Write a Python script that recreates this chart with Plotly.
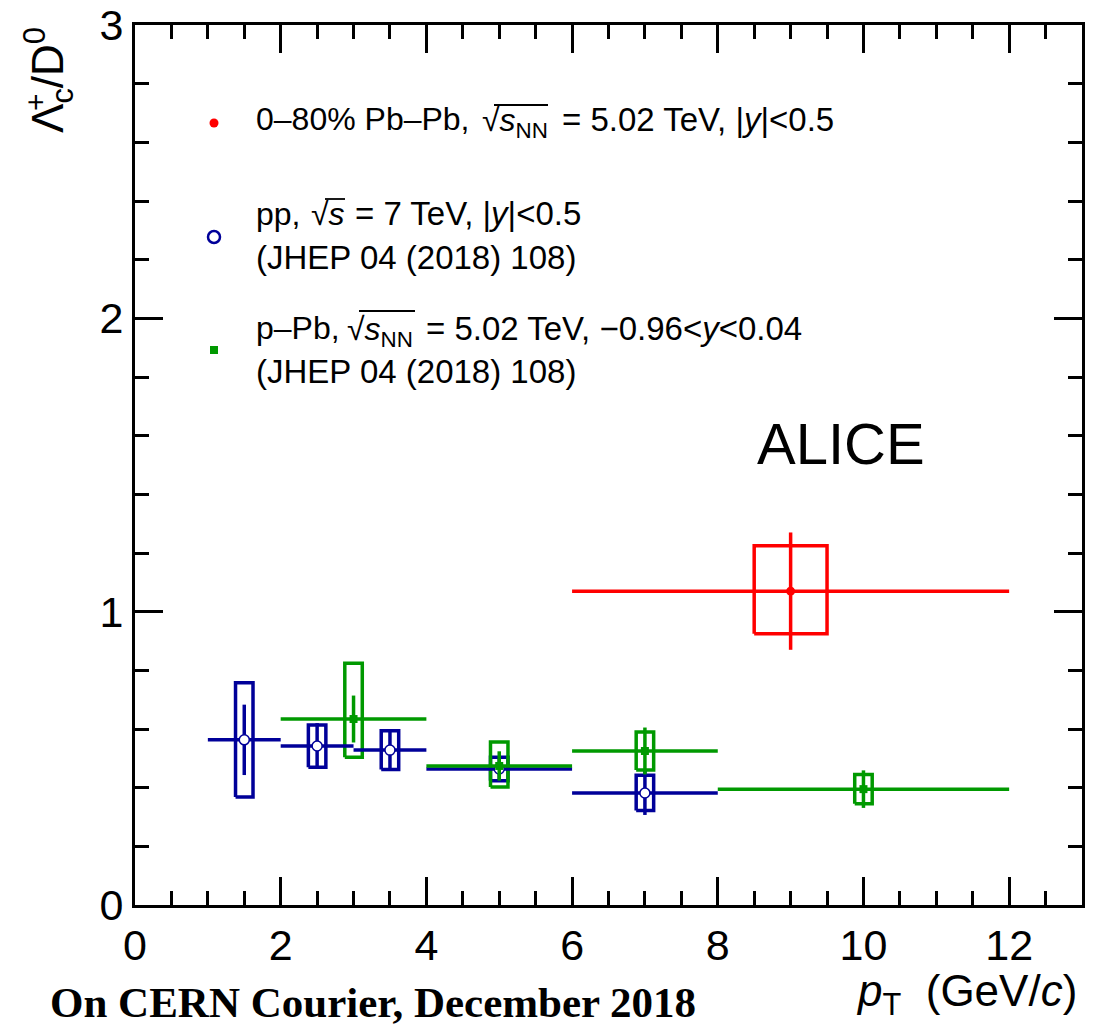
import plotly.graph_objects as go

# ---- data: Lambda_c+/D0 ratio vs pT ----
# Pb-Pb 0-80%, 5.02 TeV
pbpb_x = [9.0]
pbpb_xlo = [6.0]
pbpb_xhi = [12.0]
pbpb_y = [1.07]
pbpb_stat = [0.20]
pbpb_syst_lo = [0.145]
pbpb_syst_hi = [0.155]

# pp, 7 TeV
pp_x = [1.5, 2.5, 3.5, 5.0, 7.0]
pp_xlo = [1.0, 2.0, 3.0, 4.0, 6.0]
pp_xhi = [2.0, 3.0, 4.0, 6.0, 8.0]
pp_y = [0.563, 0.542, 0.528, 0.464, 0.382]
pp_stat = [0.12, 0.078, 0.066, 0.04, 0.075]
pp_syst_lo = [0.195, 0.072, 0.066, 0.04, 0.06]
pp_syst_hi = [0.195, 0.072, 0.066, 0.04, 0.06]

# p-Pb, 5.02 TeV
ppb_x = [3.0, 5.0, 7.0, 10.0]
ppb_xlo = [2.0, 4.0, 6.0, 8.0]
ppb_xhi = [4.0, 6.0, 8.0, 12.0]
ppb_y = [0.634, 0.474, 0.525, 0.395]
ppb_stat = [0.08, 0.05, 0.08, 0.064]
ppb_syst_lo = [0.13, 0.072, 0.065, 0.05]
ppb_syst_hi = [0.19, 0.082, 0.065, 0.05]

x_ticks = [0, 2, 4, 6, 8, 10, 12]
y_ticks = [0, 1, 2, 3]

RED = "#ff0000"
BLUE = "#000099"
GREEN = "#009900"

BOX_HALF = {RED: 0.5, BLUE: 0.12, GREEN: 0.12}   # half-width of systematic boxes
LW = 3.5

W, H = 1093, 1025
L, R, T, B = 135, 11, 25, 120
PW, PH = W - L - R, H - T - B


def px(xpix):
    return (xpix - L) / PW


def py(ypix):
    return (H - B - ypix) / PH


def boxes(x, y, lo, hi, half):
    xs, ys = [], []
    for xi, yi, l, h in zip(x, y, lo, hi):
        xs += [xi - half, xi + half, xi + half, xi - half, xi - half, None]
        ys += [yi - l, yi - l, yi + h, yi + h, yi - l, None]
    return xs, ys


fig = go.Figure()

series = [
    (pp_x, pp_xlo, pp_xhi, pp_y, pp_stat, pp_syst_lo, pp_syst_hi, BLUE,
     dict(symbol="circle", size=10, color="white", line=dict(color=BLUE, width=1.5))),
    (ppb_x, ppb_xlo, ppb_xhi, ppb_y, ppb_stat, ppb_syst_lo, ppb_syst_hi, GREEN,
     dict(symbol="square", size=8, color=GREEN)),
    (pbpb_x, pbpb_xlo, pbpb_xhi, pbpb_y, pbpb_stat, pbpb_syst_lo, pbpb_syst_hi, RED,
     dict(symbol="circle", size=9, color=RED)),
]

# systematic uncertainty boxes
for xs_, xlo, xhi, ys_, stat, slo, shi, col, mk in series:
    bx, by = boxes(xs_, ys_, slo, shi, BOX_HALF[col])
    fig.add_trace(go.Scatter(x=bx, y=by, mode="lines", line=dict(color=col, width=LW),
                             hoverinfo="skip", showlegend=False))

# points with bin widths and statistical errors
for xs_, xlo, xhi, ys_, stat, slo, shi, col, mk in series:
    fig.add_trace(go.Scatter(
        x=xs_, y=ys_, mode="markers", marker=mk, showlegend=False,
        error_x=dict(type="data", symmetric=False,
                     array=[b - xv for xv, b in zip(xs_, xhi)],
                     arrayminus=[xv - a for xv, a in zip(xs_, xlo)],
                     color=col, thickness=LW, width=0),
        error_y=dict(type="data", array=stat, color=col, thickness=LW, width=0),
    ))

# legend keys on an overlay axis spanning the plot area
legend_keys = [
    (px(214), py(123), dict(symbol="circle", size=9, color=RED)),
    (px(214), py(237), dict(symbol="circle-open", size=12, color=BLUE, line=dict(width=2.5))),
    (px(214), py(350), dict(symbol="square", size=8, color=GREEN)),
]
for kx, ky, mk in legend_keys:
    fig.add_trace(go.Scatter(x=[kx], y=[ky], mode="markers", marker=mk,
                             xaxis="x2", yaxis="y2", showlegend=False, hoverinfo="skip"))

FONT = "Liberation Sans, Arial, Helvetica, sans-serif"

axis_common = dict(
    showline=True, linecolor="black", linewidth=3, mirror="ticks",
    ticks="inside", ticklen=28, tickwidth=3, tickcolor="black",
    showgrid=False, zeroline=False, automargin=False,
    tickfont=dict(family=FONT, size=43, color="black"),
)

fig.update_layout(
    width=W, height=H,
    margin=dict(l=L, r=R, t=T, b=B, autoexpand=False),
    paper_bgcolor="white", plot_bgcolor="white",
    xaxis=dict(range=[0, 13], tickvals=x_ticks, ticktext=[str(v) for v in x_ticks],
               minor=dict(dtick=0.5, ticks="inside", ticklen=14, tickwidth=3, tickcolor="black"),
               **axis_common),
    yaxis=dict(range=[0, 3], tickvals=y_ticks, ticktext=[str(v) for v in y_ticks],
               minor=dict(dtick=0.2, ticks="inside", ticklen=14, tickwidth=3, tickcolor="black"),
               **axis_common),
    xaxis2=dict(range=[0, 1], overlaying="x", visible=False, automargin=False),
    yaxis2=dict(range=[0, 1], overlaying="y", visible=False, automargin=False),
    showlegend=False,
)

ann = []


def text(x, y, s, size, xanchor="left", yanchor="middle", family=FONT, angle=0):
    ann.append(dict(x=x, y=y, xref="paper", yref="paper", text=s, showarrow=False,
                    xanchor=xanchor, yanchor=yanchor, textangle=angle,
                    font=dict(family=family, size=size, color="black")))


LS = 32
SUB_SHIFT = 3.8   # box of a text with a subscript sits lower

# legend entries
text(px(254), py(119), "0–80% Pb–Pb,", LS)
text(px(480), py(119 + SUB_SHIFT), "√<i>s</i><sub>NN</sub>", LS)
text(px(560), py(119), "= 5.02 TeV, |<i>y</i>|&lt;0.5", 33)

text(px(254), py(214), "pp,", LS)
text(px(309), py(214), "√<i>s</i>", LS)
text(px(353), py(214), "= 7 TeV, |<i>y</i>|&lt;0.5", 33)
text(px(254), py(257), "(JHEP 04 (2018) 108)", 33)

text(px(254), py(328), "p–Pb,", LS)
text(px(345), py(328 + SUB_SHIFT), "√<i>s</i><sub>NN</sub>", LS)
text(px(424), py(328), "= 5.02 TeV, −0.96&lt;<i>y</i>&lt;0.04", 33)
text(px(254), py(371), "(JHEP 04 (2018) 108)", 33)

text(px(755), py(443), "ALICE", 58)

# axis titles
text(px(1079), py(994), "<i>p</i><sub>T</sub>&nbsp; (GeV/<i>c</i>)", 44, xanchor="right")
text(px(48), py(25), "Λ<sub>c</sub>/D<sup>0</sup>", 44, xanchor="center", yanchor="top", angle=-90)
text(px(35), py(102), "+", 30, xanchor="center", yanchor="middle", angle=-90)

text(px(48), py(1002), "<b>On CERN Courier, December 2018</b>", 43,
     family="Liberation Serif, Times New Roman, serif")

fig.update_layout(annotations=ann)

# overlines of the square-root signs in the legend
overlines = [(494, 548, 105), (325, 345, 199), (359, 415, 311)]
for x0, x1, yy in overlines:
    fig.add_shape(type="line", xref="paper", yref="paper",
                  x0=px(x0), x1=px(x1), y0=py(yy), y1=py(yy),
                  line=dict(color="black", width=1.8))

fig.write_html("out.html")
